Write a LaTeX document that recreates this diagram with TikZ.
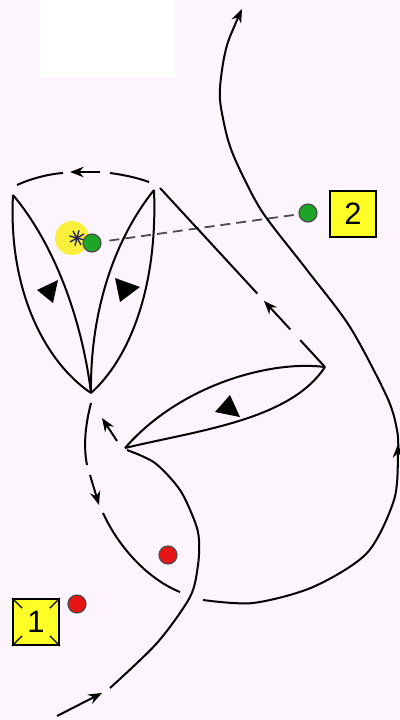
\documentclass[tikz,border=0pt]{standalone}
\usepackage{fontspec}
\setmainfont{Liberation Sans}
\usetikzlibrary{arrows.meta, calc}
\definecolor{pagepink}{RGB}{253,245,253}
\definecolor{markyellow}{RGB}{255,255,40}
\definecolor{spotyellow}{RGB}{250,240,60}
\definecolor{dotgreen}{RGB}{30,165,40}
\definecolor{dotred}{RGB}{230,20,20}
\definecolor{stargray}{RGB}{40,40,80}

\begin{document}
\begin{tikzpicture}[x=0.25mm, y=-0.25mm, >={Stealth[length=3.4mm, width=2.6mm]}, line width=0.5mm,
  numbox/.style={draw, line width=0.45mm, fill=markyellow, minimum size=11.5mm, inner sep=0pt, font=\fontsize{22}{22}\selectfont},
  playerdot/.style={circle, draw=black!70, line width=0.3mm, inner sep=0pt, minimum size=4.5mm},
  passline/.style={dash pattern=on 2.5mm off 1.5mm, line width=0.45mm, black!70}]
  \fill[pagepink] (0,0) rectangle (400,720);
  \fill[white] (40,0) rectangle (175,78);
  \useasboundingbox (0,0) rectangle (400,720);

  \coordinate (Lt) at (13,195);
  \coordinate (Rt) at (154,190);
  \coordinate (Pb) at (91,393);
  \coordinate (Wr) at (325,367);
  \coordinate (Wl) at (125,448);
  \coordinate (Dt) at (160,188);

  \fill[spotyellow] (72,238) circle (17);
  \foreach \a in {15,60,105,150}
    \draw[stargray, line width=0.35mm] (77,238) ++(\a:-8) -- ++(\a:16);

  \node[playerdot, fill=dotgreen] (g1) at (92,243) {};
  \node[playerdot, fill=dotgreen] (g2) at (308,213) {};
  \node[numbox] (b2) at (353,214) {2};
  \node[numbox] (b1) at (36,622) {1};
  \node[playerdot, fill=dotred] (r1) at (77,604) {};
  \node[playerdot, fill=dotred] (r2) at (168,555) {};

  \draw[passline, shorten <=2mm, shorten >=1mm] (g1) -- (g2);
  \draw[line width=0.35mm] (b1.north west) -- ++(10,10);
  \draw[line width=0.35mm] (b1.north east) -- ++(-10,10);
  \draw[line width=0.35mm] (b1.south west) -- ++(10,-10);
  \draw[line width=0.35mm] (b1.south east) -- ++(-10,-10);

  \draw (Lt) .. controls (8,290) and (45,362) .. (Pb);
  \draw (Lt) .. controls (55,245) and (82,320) .. (Pb);
  \draw (Rt) .. controls (158,290) and (128,360) .. (Pb);
  \draw (Rt) .. controls (110,245) and (90,320) .. (Pb);
  \fill (37,290) -- (58,280) -- (53,303) -- cycle;
  \fill (115,278) -- (140,287) -- (120,302) -- cycle;

  \draw (17,185) .. controls (30,179) and (48,174) .. (63,173);
  \draw[->] (100,172) -- (70,172);
  \draw (110,173) .. controls (125,175) and (138,178) .. (149,182);

  \draw (Wr) -- ($(Wr)!0.15!(Dt)$);
  \draw[->] ($(Wr)!0.21!(Dt)$) -- ($(Wr)!0.37!(Dt)$);
  \draw ($(Wr)!0.41!(Dt)$) -- (Dt);

  \draw (Wr) .. controls (270,360) and (180,385) .. (Wl);
  \draw (Wr) .. controls (290,420) and (200,430) .. (Wl);
  \fill (230,395) -- (215,412) -- (240,417) -- cycle;
  \draw[->] (117,441) -- (102,418);

  \draw (91,403) .. controls (84,430) and (84,450) .. (87,465);
  \draw[->] (90,475) -- (99,505);
  \draw (103,513) .. controls (120,550) and (150,580) .. (180,592);

  \draw[->] (57,716) -- (102,693);
  \draw plot[smooth] coordinates {(110,688) (157,643) (190,597) (198,565) (199,540) (195,522) (180,490) (155,463) (127,450)};

  \draw[->] plot[smooth] coordinates {(203,600) (253,603) (313,587) (367,553) (394,500) (398,455) (397,430) (387,397) (350,327) (307,270) (263,213) (240,170) (228,140) (220,100) (222,70) (228,42) (242,9)};
  \draw[->] (398,468) -- (398,444);
\end{tikzpicture}
\end{document}
